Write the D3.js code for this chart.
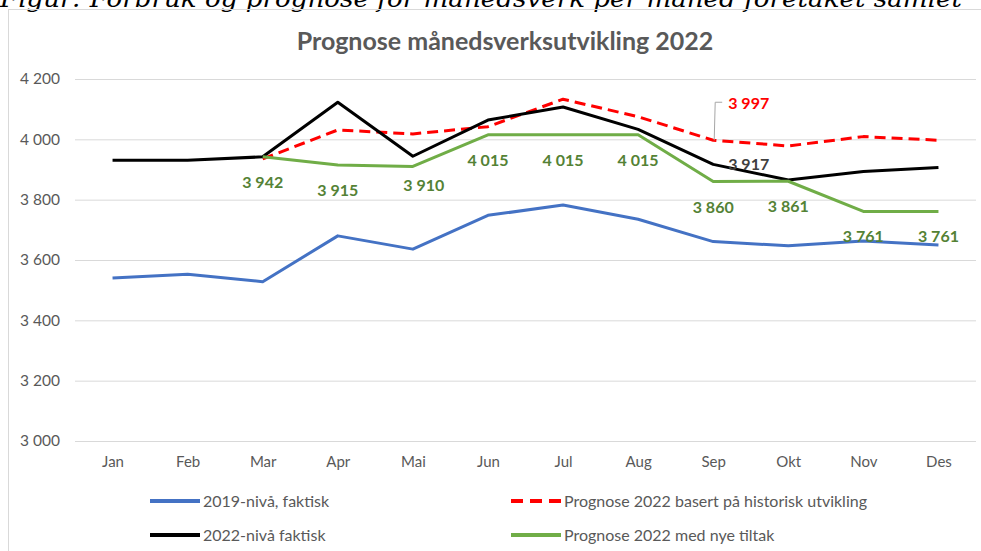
<!DOCTYPE html>
<html>
<head>
<meta charset="utf-8">
<script src="https://cdn.jsdelivr.net/npm/d3@7"></script>
<style>
  body { margin: 0; background: #fff; }
  svg { display: block; font-family: Lato, "Open Sans", sans-serif; }
</style>
</head>
<body>
<svg id="chart" width="981" height="551"></svg>
<script>
// chart data
const months = ["Jan", "Feb", "Mar", "Apr", "Mai", "Jun", "Jul", "Aug", "Sep", "Okt", "Nov", "Des"];
const faktisk2019 = [3540, 3553, 3528, 3680, 3636, 3748, 3782, 3735, 3661, 3647, 3663, 3650];
const faktisk2022 = [3931, 3931, 3942, 4123, 3944, 4064, 4107, 4033, 3917, 3865, 3893, 3907];
const prognoseHistorisk = [null, null, 3935, 4031, 4018, 4042, 4133, 4075, 3997, 3978, 4009, 3997];
const prognoseTiltak = [null, null, 3942, 3915, 3910, 4015, 4015, 4015, 3860, 3861, 3761, 3761];
const yTicks = [3000, 3200, 3400, 3600, 3800, 4000, 4200];

const title = "Prognose månedsverksutvikling 2022";
const caption = "Figur: Forbruk og prognose for månedsverk per måned foretaket samlet";

const series = [
  { name: "2019-nivå, faktisk", values: faktisk2019, color: "#4472c4", dash: null },
  { name: "Prognose 2022 basert på historisk utvikling", values: prognoseHistorisk, color: "#ff0000", dash: "11,6" },
  { name: "2022-nivå faktisk", values: faktisk2022, color: "#000000", dash: null },
  { name: "Prognose 2022 med nye tiltak", values: prognoseTiltak, color: "#70ad47", dash: null }
];

const svg = d3.select("#chart");
const fmt = d3.formatLocale({ decimal: ",", thousands: " ", grouping: [3], currency: ["", ""] }).format(",d");

const x = d3.scalePoint().domain(months).range([75, 976]).padding(0.5);
const y = d3.scaleLinear().domain([3000, 4200]).range([441, 79]);

// caption of the report (cut by the crop, as in the source)
svg.append("text")
  .attr("x", 0).attr("y", 7)
  .attr("textLength", 962).attr("lengthAdjust", "spacingAndGlyphs")
  .style("font-family", "'DejaVu Serif', 'Liberation Serif', serif")
  .style("font-style", "italic")
  .style("font-size", "24px")
  .attr("fill", "#000")
  .text(caption);

// chart frame
svg.append("rect")
  .attr("x", 8.5).attr("y", 9.5)
  .attr("width", 1000).attr("height", 600)
  .attr("fill", "none").attr("stroke", "#d9d9d9");

svg.append("text")
  .attr("x", 505).attr("y", 50)
  .attr("text-anchor", "middle")
  .style("font-size", "25px").style("font-weight", "bold")
  .attr("fill", "#595959")
  .text(title);

// y axis + grid
const yAxis = svg.append("g")
  .attr("transform", "translate(75,0)")
  .call(d3.axisLeft(y).tickValues(yTicks).tickSize(-901).tickPadding(15).tickFormat(fmt));
yAxis.select(".domain").remove();
yAxis.selectAll(".tick line").attr("stroke", "#d9d9d9");
yAxis.selectAll(".tick text").attr("fill", "#595959").style("font-size", "15.5px").style("font-family", "Lato, sans-serif");

// x axis labels
const xAxis = svg.append("g")
  .attr("transform", "translate(0,441)")
  .call(d3.axisBottom(x).tickSize(0).tickPadding(15));
xAxis.select(".domain").remove();
xAxis.selectAll(".tick text").attr("fill", "#595959").style("font-size", "15px").style("font-family", "Lato, sans-serif");

// lines
const line = d3.line()
  .defined(d => d.v != null)
  .x(d => x(d.m))
  .y(d => y(d.v));

series.forEach(s => {
  const pts = months.map((m, i) => ({ m: m, v: s.values[i] }));
  svg.append("path")
    .datum(pts)
    .attr("fill", "none")
    .attr("stroke", s.color)
    .attr("stroke-width", 3)
    .attr("stroke-linejoin", "round")
    .attr("stroke-dasharray", s.dash)
    .attr("d", line);
});

// data labels for "nye tiltak", below the points
const labelNudge = { Mai: [11, -6] };
svg.append("g").selectAll("text")
  .data(months.map((m, i) => ({ m: m, v: prognoseTiltak[i] })).filter(d => d.v != null))
  .enter().append("text")
  .attr("x", d => x(d.m) + (labelNudge[d.m] ? labelNudge[d.m][0] : 0))
  .attr("y", d => y(d.v) + 31 + (labelNudge[d.m] ? labelNudge[d.m][1] : 0))
  .attr("text-anchor", "middle")
  .style("font-size", "16px").style("font-weight", "bold")
  .attr("fill", "#548235")
  .text(d => fmt(d.v));

// single labels at Sep
const iSep = months.indexOf("Sep");
svg.append("text")
  .attr("x", x("Sep") + 15).attr("y", y(faktisk2022[iSep]) + 6)
  .style("font-size", "16px").style("font-weight", "bold")
  .attr("fill", "#404040")
  .text(fmt(faktisk2022[iSep]));

const redY = y(prognoseHistorisk[iSep]);
svg.append("path")
  .attr("d", d3.line()([[x("Sep") + 1, redY], [x("Sep") + 2, redY - 38], [x("Sep") + 9, redY - 38]]))
  .attr("fill", "none").attr("stroke", "#a6a6a6").attr("stroke-width", 1);
svg.append("text")
  .attr("x", x("Sep") + 15).attr("y", redY - 31)
  .style("font-size", "16px").style("font-weight", "bold")
  .attr("fill", "#ff0000")
  .text(fmt(prognoseHistorisk[iSep]));

// legend
const legendPos = [[150, 501], [511, 501], [150, 535], [511, 535]];
series.forEach((s, i) => {
  const g = svg.append("g").attr("transform", "translate(" + legendPos[i][0] + "," + legendPos[i][1] + ")");
  g.append("line")
    .attr("x1", 0).attr("x2", 50)
    .attr("stroke", s.color).attr("stroke-width", 4)
    .attr("stroke-dasharray", s.dash ? "12,7" : null);
  g.append("text")
    .attr("x", 53).attr("y", 5.5)
    .style("font-size", "16px")
    .attr("fill", "#595959")
    .text(s.name);
});
</script>
</body>
</html>
